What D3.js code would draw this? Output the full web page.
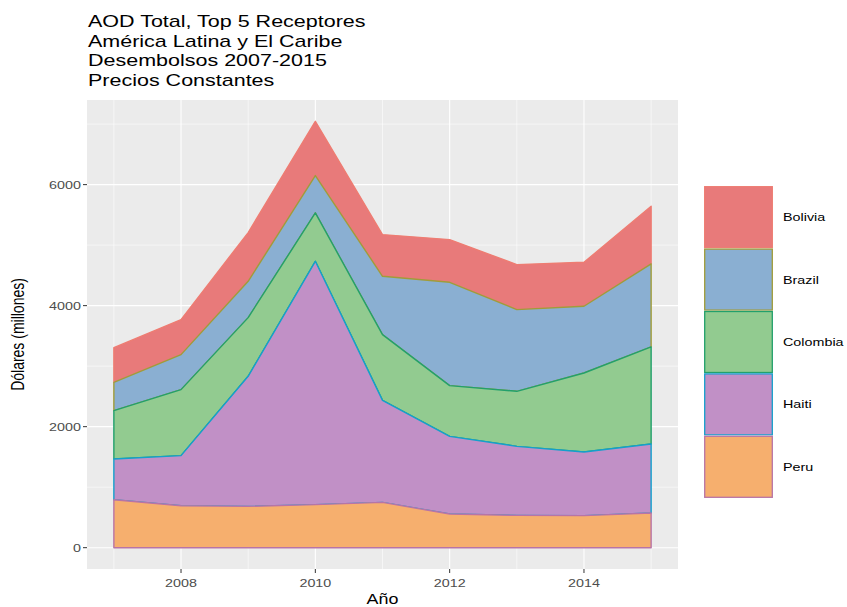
<!DOCTYPE html>
<html><head><meta charset="utf-8">
<script src="https://cdn.jsdelivr.net/npm/d3@7"></script>
<style>body{margin:0;background:#fff}svg{display:block}text{font-family:"Liberation Sans",Arial,Helvetica,sans-serif}</style>
</head><body>
<script>
const years = [2007, 2008, 2009, 2010, 2011, 2012, 2013, 2014, 2015];
const countries = ["Bolivia", "Brazil", "Colombia", "Haiti", "Peru"];
const bolivia  = [573, 579, 805, 897, 689, 705, 744, 726, 953];
const brazil   = [469, 578, 600, 617, 964, 1708, 1350, 1103, 1372];
const colombia = [798, 1091, 970, 799, 1087, 838, 909, 1306, 1604];
const haiti    = [673, 827, 2149, 4022, 1685, 1284, 1141, 1052, 1140];
const peru     = [793, 694, 683, 711, 749, 556, 534, 529, 573];
const yTicks = [0, 2000, 4000, 6000];
const xTicks = [2008, 2010, 2012, 2014];
const titleLines = ["AOD Total, Top 5 Receptores", "América Latina y El Caribe", "Desembolsos 2007-2015", "Precios Constantes"];

const fills = {Bolivia:"#E87A7A", Brazil:"#8AAFD2", Colombia:"#92CB90", Haiti:"#C190C6", Peru:"#F6AF6E"};
const strokes = {Bolivia:"#EE7C72", Brazil:"#A09C3A", Colombia:"#22A06C", Haiti:"#14A0CC", Peru:"#B874A6"};
const SX = 1.28;

const W = 847, H = 607;
const svg = d3.select("body").append("svg").attr("width", W).attr("height", H);
const panel = {l: 87, r: 678, t: 100, b: 569};

const table = years.map((y, i) => ({year: y, Bolivia: bolivia[i], Brazil: brazil[i], Colombia: colombia[i], Haiti: haiti[i], Peru: peru[i]}));
const stackOrder = ["Peru", "Haiti", "Colombia", "Brazil", "Bolivia"];
const series = d3.stack().keys(stackOrder)(table);
const maxV = d3.max(series[series.length - 1], d => d[1]);

const xr = [2007, 2015], xpad = (xr[1] - xr[0]) * 0.05;
const x = d3.scaleLinear().domain([xr[0] - xpad, xr[1] + xpad]).range([panel.l, panel.r]);
const ypad = maxV * 0.05;
const y = d3.scaleLinear().domain([0 - ypad, maxV + ypad]).range([panel.b, panel.t]);

// panel
svg.append("rect").attr("x", panel.l).attr("y", panel.t).attr("width", panel.r - panel.l).attr("height", panel.b - panel.t).attr("fill", "#EBEBEB");
const g = svg.append("g");
const yMinor = [1000, 3000, 5000, 7000];
const xMinor = [2007, 2009, 2011, 2013, 2015];
yMinor.forEach(v => g.append("line").attr("x1", panel.l).attr("x2", panel.r).attr("y1", y(v)).attr("y2", y(v)).attr("stroke", "#fff").attr("stroke-width", 0.55));
xMinor.forEach(v => g.append("line").attr("y1", panel.t).attr("y2", panel.b).attr("x1", x(v)).attr("x2", x(v)).attr("stroke", "#fff").attr("stroke-width", 0.55));
yTicks.forEach(v => g.append("line").attr("x1", panel.l).attr("x2", panel.r).attr("y1", y(v)).attr("y2", y(v)).attr("stroke", "#fff").attr("stroke-width", 1.1));
xTicks.forEach(v => g.append("line").attr("y1", panel.t).attr("y2", panel.b).attr("x1", x(v)).attr("x2", x(v)).attr("stroke", "#fff").attr("stroke-width", 1.1));

// areas: draw top (Bolivia) first, Peru last
const area = d3.area().x(d => x(d.data.year)).y0(d => y(d[0])).y1(d => y(d[1]));
const drawOrder = ["Bolivia", "Brazil", "Colombia", "Haiti", "Peru"];
drawOrder.forEach(k => {
  const s = series.find(s => s.key === k);
  svg.append("path").datum(s).attr("d", d => area(d) + "Z")
    .attr("fill", fills[k]).attr("stroke", strokes[k]).attr("stroke-width", 1.4).attr("stroke-linejoin", "round");
});

// axes
const axG = svg.append("g");
yTicks.forEach(v => {
  axG.append("line").attr("x1", panel.l - 4).attr("x2", panel.l).attr("y1", y(v)).attr("y2", y(v)).attr("stroke", "#333").attr("stroke-width", 1);
  axG.append("text").attr("transform", `translate(${panel.l - 6},${y(v) + 4}) scale(${SX},1)`).attr("text-anchor", "end")
    .attr("font-size", 11.2).attr("fill", "#4D4D4D").text(v);
});
xTicks.forEach(v => {
  axG.append("line").attr("y1", panel.b).attr("y2", panel.b + 4).attr("x1", x(v)).attr("x2", x(v)).attr("stroke", "#333").attr("stroke-width", 1);
  axG.append("text").attr("transform", `translate(${x(v)},${panel.b + 18}) scale(${SX},1)`).attr("text-anchor", "middle")
    .attr("font-size", 11.2).attr("fill", "#4D4D4D").text(v);
});
svg.append("text").attr("transform", `translate(${(panel.l + panel.r) / 2},${H - 3}) scale(${SX},1)`).attr("text-anchor", "middle")
  .attr("font-size", 14).attr("fill", "#000").text("Año");
svg.append("text").attr("transform", `translate(24,${(panel.t + panel.b) / 2}) rotate(-90) scale(1,${SX})`).attr("text-anchor", "middle")
  .attr("font-size", 14).attr("fill", "#000").text("Dólares (millones)");

// title
titleLines.forEach((t, i) => {
  svg.append("text").attr("transform", `translate(${panel.l + 1},${27 + i * 19.5}) scale(${SX},1)`)
    .attr("font-size", 16.8).attr("fill", "#000").text(t);
});

// legend
const lg = svg.append("g");
const keyX = 704, keyW = 69, keyTop = 186, keyH = 62.4;
countries.forEach((c, i) => {
  const ky = keyTop + i * keyH;
  lg.append("rect").attr("x", keyX).attr("y", ky).attr("width", keyW).attr("height", keyH).attr("fill", "#F2F2F2");
  lg.append("rect").attr("x", keyX + 0.7).attr("y", ky + 0.7).attr("width", keyW - 1.4).attr("height", keyH - 1.4)
    .attr("fill", fills[c]).attr("stroke", strokes[c]).attr("stroke-width", 1.3);
  lg.append("text").attr("transform", `translate(${keyX + keyW + 10},${ky + keyH / 2 + 4}) scale(${SX},1)`)
    .attr("font-size", 11.2).attr("fill", "#000").text(c);
});
</script>
</body></html>
